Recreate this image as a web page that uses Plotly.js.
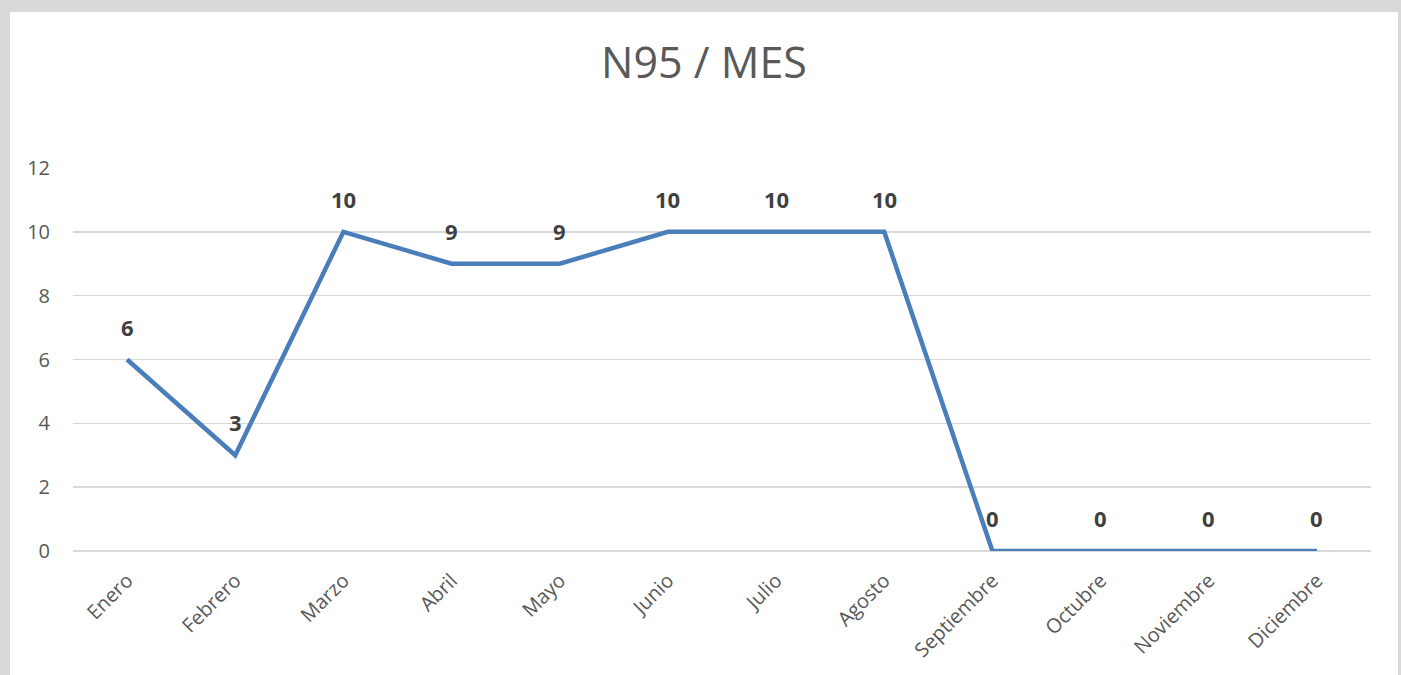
<!DOCTYPE html>
<html>
<head>
<meta charset="utf-8">
<script src="https://cdn.plot.ly/plotly-3.0.1.min.js"></script>
<style>
html,body{margin:0;padding:0;background:#d9d9d9;width:1401px;height:675px;overflow:hidden;}
#chart{position:absolute;left:10px;top:12px;width:1388px;height:663px;background:#fff;}
</style>
</head>
<body>
<div id="chart"></div>
<script>
const months = ["Enero","Febrero","Marzo","Abril","Mayo","Junio","Julio","Agosto","Septiembre","Octubre","Noviembre","Diciembre"];
const values = [6,3,10,9,9,10,10,10,0,0,0,0];
const yTicks = [0,2,4,6,8,10,12];
const chartTitle = "N95 / MES";

const font = "Open Sans, Noto Sans, sans-serif";

const trace = {
  x: months,
  y: values,
  type: "scatter",
  mode: "lines",
  line: {color: "#4a7ebb", width: 4.5},
  hoverinfo: "skip"
};

const annotations = months.map((m, i) => ({
  x: m, y: values[i], xref: "x", yref: "y",
  text: "<b>" + values[i] + "</b>",
  showarrow: false, yshift: 33,
  font: {family: font, size: 22, color: "#404040"}
}));

const layout = {
  width: 1388, height: 663,
  paper_bgcolor: "#ffffff", plot_bgcolor: "#ffffff",
  margin: {l: 63, r: 27, t: 156, b: 124},
  showlegend: false,
  title: {text: chartTitle, x: 0.5, xanchor: "center", y: 0.923, yanchor: "middle",
          font: {family: font, size: 43, color: "#595959"}},
  xaxis: {
    type: "category", range: [-0.5, 11.5],
    showgrid: false, zeroline: false, showline: false, ticks: "",
    tickangle: -45, ticklabelstandoff: 13,
    tickfont: {family: font, size: 20, color: "#595959"}
  },
  yaxis: {
    range: [0, 12], tickvals: yTicks, ticktext: yTicks.map(String),
    showgrid: true, gridcolor: "#d9d9d9", gridwidth: 1.5,
    zeroline: true, zerolinecolor: "#d9d9d9", zerolinewidth: 1.5,
    showline: false, ticks: "", ticklabelstandoff: 22,
    tickfont: {family: font, size: 20, color: "#595959"}
  },
  annotations: annotations
};

Plotly.newPlot("chart", [trace], layout, {displayModeBar: false, staticPlot: true});
</script>
</body>
</html>
